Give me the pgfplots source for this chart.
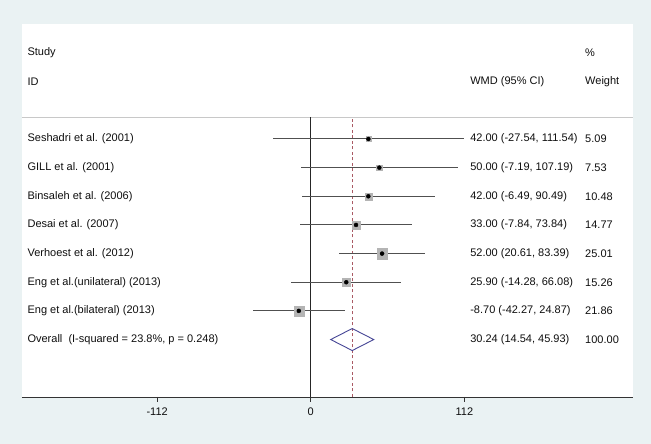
\documentclass[border=0pt]{standalone}
\usepackage{pgfplots}
\pgfplotsset{compat=1.18}
\usepackage{pgfplotstable}
\usepackage{fontspec}
\setmainfont{Liberation Sans}
\definecolor{bg}{RGB}{234,242,243}
\definecolor{sepgray}{RGB}{200,200,200}
\definecolor{cigray}{RGB}{80,80,80}
\definecolor{boxgray}{RGB}{180,180,180}
\definecolor{dashred}{RGB}{170,90,100}
\definecolor{diamond}{RGB}{70,70,150}
\definecolor{txt}{RGB}{15,15,15}

% y = vertical position (pt from bottom), est = WMD, lo/hi = 95% CI, w = weight
\pgfplotstableread{
y      est    lo      hi      w
305.00 42.00  -27.54  111.54  5.09
276.35 50.00  -7.19   107.19  7.53
247.70 42.00  -6.49   90.49   10.48
219.05 33.00  -7.84   73.84   14.77
190.40 52.00  20.61   83.39   25.01
161.75 25.90  -14.28  66.08   15.26
133.10 -8.70  -42.27  24.87   21.86
}\studies

\begin{document}
\begin{tikzpicture}[font=\fontsize{11}{13}\selectfont, every node/.style={text=txt, inner sep=0pt}]
\begin{axis}[width=651pt,height=444pt,scale only axis,hide axis,
  xmin=-226.6,xmax=248.1,ymin=0,ymax=444,clip=false]
% backgrounds
\fill[bg] (rel axis cs:0,0) rectangle (rel axis cs:1,1);
\fill[white] (axis cs:-210.7,47) rectangle (axis cs:235,420);
\draw[sepgray, line width=0.8pt] (axis cs:-210.7,327) -- (axis cs:235,327);
% axis line and ticks
\draw[black!80, line width=0.9pt] (axis cs:-210.7,47) -- (axis cs:235,47);
\pgfplotsinvokeforeach{-112,0,112}{
  \draw[black!80, line width=0.8pt] (axis cs:#1,47) -- (axis cs:#1,42);
  \node[anchor=center] at (axis cs:#1,32.3) {#1};
}
% null line and overall line
\draw[black!85, line width=0.9pt] (axis cs:0,47) -- (axis cs:0,327);
\draw[dashred, line width=0.8pt, dash pattern=on 3pt off 2.5pt] (axis cs:30.24,47) -- (axis cs:30.24,327);

% confidence intervals
\addplot[only marks, mark=none, draw=none,
  error bars/.cd, x dir=both, x explicit, error mark=none,
  error bar style={cigray, line width=1pt}]
  table[x=est, y=y,
    x error plus expr=\thisrow{hi}-\thisrow{est},
    x error minus expr=\thisrow{est}-\thisrow{lo}] {\studies};
% weight boxes
\addplot[scatter, only marks, mark=square*,
  point meta=\thisrow{w},
  scatter/use mapped color={draw=boxgray, fill=boxgray},
  visualization depends on={1.07*sqrt(\thisrow{w}) \as \ms},
  scatter/@pre marker code/.append style={/tikz/mark size=\ms pt}]
  table[x=est, y=y] {\studies};
% point estimates
\addplot[only marks, mark=*, mark size=2pt, black] table[x=est, y=y] {\studies};
% overall diamond
\addplot[diamond, line width=0.9pt, mark=none] coordinates {(14.54,104.45) (30.24,115.45) (45.93,104.45) (30.24,93.45)} -- cycle;

% header text
\node[anchor=west] at (axis cs:-206.65,390.95) {Study};
\node[anchor=west] at (axis cs:-206.65,362.3) {ID};
\node[anchor=west] at (axis cs:200,390.95) {\%};
\node[anchor=west] at (axis cs:116.2,362.3) {WMD (95\% CI)};
\node[anchor=west] at (axis cs:200,362.3) {Weight};

% study labels
\node[anchor=west] at (axis cs:-206.65,305.00) {Seshadri et al. (2001)};
\node[anchor=west] at (axis cs:-206.65,276.35) {GILL et al. (2001)};
\node[anchor=west] at (axis cs:-206.65,247.70) {Binsaleh et al. (2006)};
\node[anchor=west] at (axis cs:-206.65,219.05) {Desai et al. (2007)};
\node[anchor=west] at (axis cs:-206.65,190.40) {Verhoest et al. (2012)};
\node[anchor=west] at (axis cs:-206.65,161.75) {Eng et al.(unilateral) (2013)};
\node[anchor=west] at (axis cs:-206.65,133.10) {Eng et al.(bilateral) (2013)};
\node[anchor=west] at (axis cs:-206.65,104.45) {Overall\ \ (I-squared = 23.8\%, p = 0.248)};

% estimates
\node[anchor=west] at (axis cs:116.2,305.00) {42.00 (-27.54, 111.54)};
\node[anchor=west] at (axis cs:116.2,276.35) {50.00 (-7.19, 107.19)};
\node[anchor=west] at (axis cs:116.2,247.70) {42.00 (-6.49, 90.49)};
\node[anchor=west] at (axis cs:116.2,219.05) {33.00 (-7.84, 73.84)};
\node[anchor=west] at (axis cs:116.2,190.40) {52.00 (20.61, 83.39)};
\node[anchor=west] at (axis cs:116.2,161.75) {25.90 (-14.28, 66.08)};
\node[anchor=west] at (axis cs:116.2,133.10) {-8.70 (-42.27, 24.87)};
\node[anchor=west] at (axis cs:116.2,104.45) {30.24 (14.54, 45.93)};

% weights
\node[anchor=west] at (axis cs:200,305.00) {5.09};
\node[anchor=west] at (axis cs:200,276.35) {7.53};
\node[anchor=west] at (axis cs:200,247.70) {10.48};
\node[anchor=west] at (axis cs:200,219.05) {14.77};
\node[anchor=west] at (axis cs:200,190.40) {25.01};
\node[anchor=west] at (axis cs:200,161.75) {15.26};
\node[anchor=west] at (axis cs:200,133.10) {21.86};
\node[anchor=west] at (axis cs:200,104.45) {100.00};
\end{axis}
\end{tikzpicture}
\end{document}
